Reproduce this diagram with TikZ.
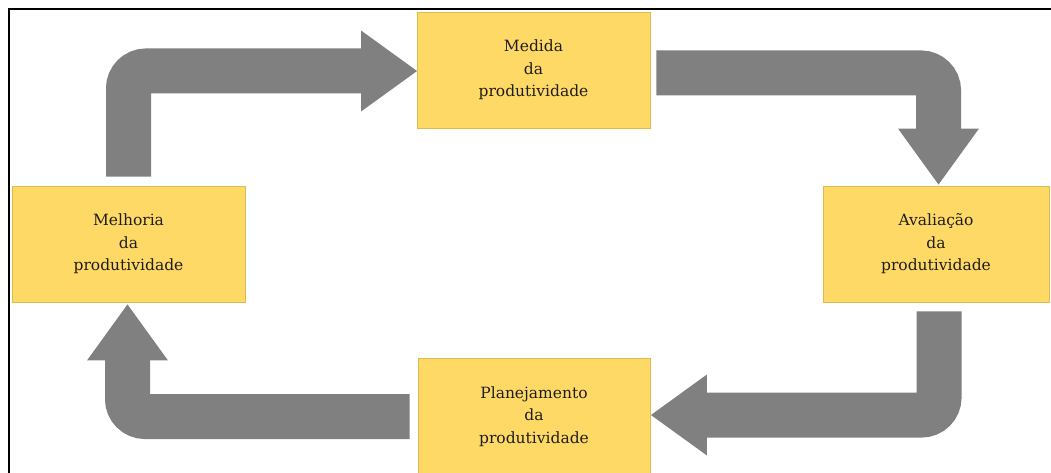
\documentclass[tikz,border=0pt]{standalone}
\usepackage{fontspec}
\setmainfont{DejaVu Serif}
\usetikzlibrary{calc}
\definecolor{boxfill}{RGB}{255,217,102}
\definecolor{boxline}{RGB}{222,186,80}
\definecolor{flow}{RGB}{128,128,128}
\definecolor{ink}{RGB}{30,30,30}

\begin{document}
\begin{tikzpicture}[x=1pt,y=-1pt,
  stage/.style={draw=boxline, fill=boxfill, line width=0.9pt,
    minimum height=116pt, inner sep=0pt, align=center, text=ink,
    font=\fontsize{15.5}{22.5}\selectfont},
  shaft/.style={draw=flow, line width=45pt, rounded corners=17.5pt},
  head/.style={fill=flow}]
\useasboundingbox (0,0) rectangle (1051,473);

% frame lines along the top and the left
\draw[line width=2pt] (9.3,473) -- (9.3,9.3) -- (1051,9.3);

% the four stages of the cycle
\node[stage, minimum width=233pt] (medida)       at (533.5,70)  {Medida\\da\\produtividade};
\node[stage, minimum width=226pt] (avaliacao)    at (936,244)   {Avaliação\\da\\produtividade};
\node[stage, minimum width=232pt] (planejamento) at (534,416.5) {Planejamento\\da\\produtividade};
\node[stage, minimum width=233pt] (melhoria)     at (128.5,244) {Melhoria\\da\\produtividade};

% bent block arrows between the stages
\coordinate (a1s) at ($(melhoria.north)+(0,-9)$);
\coordinate (a1t) at ($(medida.west)+(0.5,1)$);
\draw[shaft] (a1s) -- (a1s |- a1t) -- ($(a1t)+(-55,0)$);
\fill[head] ($(a1t)+(-56,-40.5)$) -- (a1t) -- ($(a1t)+(-56,40.5)$) -- cycle;

\coordinate (a2s) at ($(medida.east)+(6,3)$);
\coordinate (a2t) at ($(avaliacao.north)+(2.5,-1)$);
\draw[shaft] (a2s) -- (a2s -| a2t) -- ($(a2t)+(0,-55)$);
\fill[head] ($(a2t)+(-40.5,-56)$) -- (a2t) -- ($(a2t)+(40.5,-56)$) -- cycle;

\coordinate (a3s) at ($(avaliacao.south)+(3,9)$);
\coordinate (a3t) at ($(planejamento.east)+(0.5,-1.5)$);
\draw[shaft] (a3s) -- (a3s |- a3t) -- ($(a3t)+(55,0)$);
\fill[head] ($(a3t)+(56,-40.5)$) -- (a3t) -- ($(a3t)+(56,40.5)$) -- cycle;

\coordinate (a4s) at ($(planejamento.west)+(-8,0)$);
\coordinate (a4t) at ($(melhoria.south)+(-1,2)$);
\draw[shaft] (a4s) -- (a4s -| a4t) -- ($(a4t)+(0,55)$);
\fill[head] ($(a4t)+(-40.5,56)$) -- (a4t) -- ($(a4t)+(40.5,56)$) -- cycle;
\end{tikzpicture}
\end{document}
